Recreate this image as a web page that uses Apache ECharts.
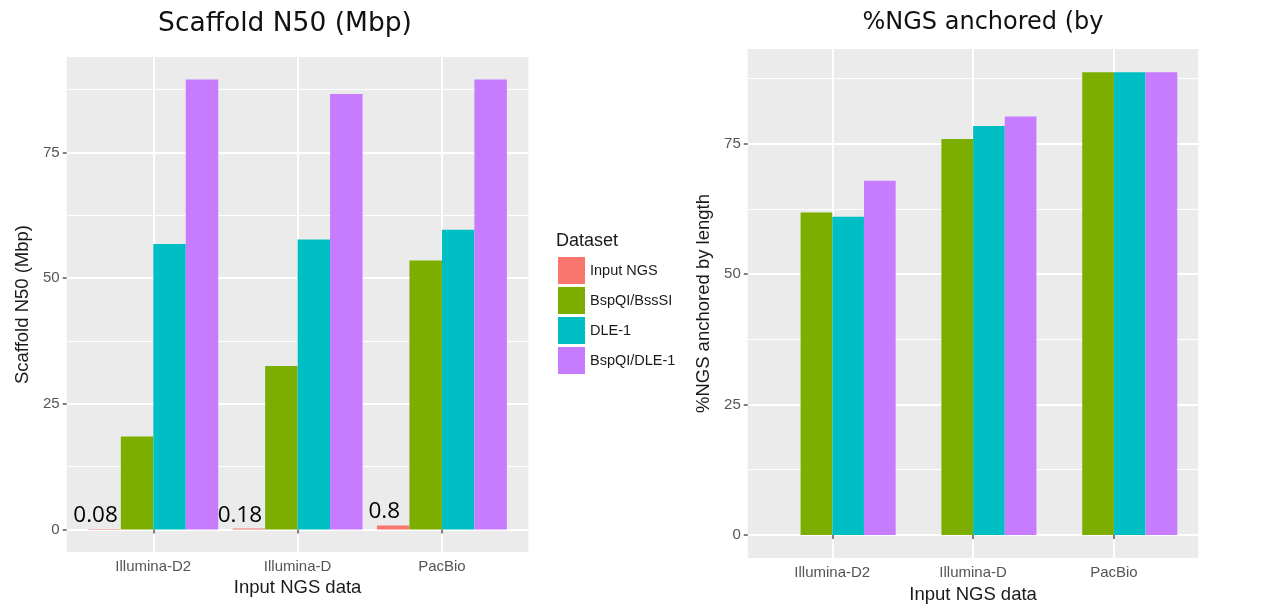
<!DOCTYPE html>
<html>
<head>
<meta charset="utf-8">
<script src="https://cdn.jsdelivr.net/npm/echarts@6/dist/echarts.min.js"></script>
<style>
html,body{margin:0;padding:0;background:#fff;}
#chart{width:1279px;height:609px;}
</style>
</head>
<body>
<div id="chart"></div>
<script>
const categories = ['Illumina-D2', 'Illumina-D', 'PacBio'];
const seriesNames = ['Input NGS', 'BspQI/BssSI', 'DLE-1', 'BspQI/DLE-1'];
const colors = ['#F8766D', '#7CAE00', '#00BFC4', '#C77CFF'];

// Scaffold N50 (Mbp)
const n50InputNGS = [0.08, 0.18, 0.8];
const n50BspQIBssSI = [18.5, 32.5, 53.5];
const n50DLE1 = [56.8, 57.7, 59.6];
const n50BspQIDLE1 = [89.5, 86.6, 89.5];

// %NGS anchored by length
const anchInputNGS = [null, null, null];
const anchBspQIBssSI = [61.8, 75.9, 88.7];
const anchDLE1 = [61.0, 78.4, 88.7];
const anchBspQIDLE1 = [67.9, 80.2, 88.7];

const yTicks = [0, 25, 50, 75];
const yMinorTicks = [12.5, 37.5, 62.5, 87.5];
const xTicks = [1, 2, 3];

const leftData = [n50InputNGS, n50BspQIBssSI, n50DLE1, n50BspQIDLE1];
const rightData = [anchInputNGS, anchBspQIBssSI, anchDLE1, anchBspQIDLE1];

function maxOf(arrs) {
  let m = 0;
  arrs.forEach(a => a.forEach(v => { if (v != null && v > m) m = v; }));
  return m;
}
const leftMax = maxOf(leftData);
const rightMax = maxOf(rightData);

const tickFont = { color: '#555555', fontSize: 15, fontFamily: 'Liberation Sans' };
const nameFont = { color: '#1a1a1a', fontSize: 18.5, fontFamily: 'Liberation Sans' };

function xAxisDef(gridIndex, nameGap) {
  return {
    type: 'value', gridIndex: gridIndex, min: 0.4, max: 3.6,
    name: 'Input NGS data', nameLocation: 'middle', nameGap: nameGap,
    nameTextStyle: nameFont,
    axisLine: { show: false },
    axisTick: { show: true, customValues: xTicks, length: 4, lineStyle: { color: '#555', width: 1.5 } },
    axisLabel: { show: true, customValues: xTicks, margin: 7, ...tickFont,
      formatter: v => categories[Math.round(v) - 1] || '' },
    splitLine: { show: true, lineStyle: { color: '#fff', width: 2 } }
  };
}
function yAxisDef(gridIndex, maxV, name) {
  return {
    type: 'value', gridIndex: gridIndex, min: -maxV * 0.05, max: maxV * 1.05,
    name: name, nameLocation: 'middle', nameGap: 34, nameTextStyle: nameFont,
    axisLine: { show: false },
    axisTick: { show: true, customValues: yTicks, length: 4, lineStyle: { color: '#555', width: 1.5 } },
    axisLabel: { show: true, customValues: yTicks, margin: 7, ...tickFont },
    splitLine: { show: true, lineStyle: { color: '#fff', width: 2 } }
  };
}
function yMinorDef(gridIndex, maxV) {
  return {
    type: 'value', gridIndex: gridIndex, min: -maxV * 0.05, max: maxV * 1.05,
    axisLine: { show: false },
    axisTick: { show: false, customValues: yMinorTicks },
    axisLabel: { show: false, customValues: yMinorTicks },
    splitLine: { show: true, lineStyle: { color: '#fff', width: 1 } }
  };
}

const series = [];
[leftData, rightData].forEach((dataSet, gi) => {
  dataSet.forEach((vals, si) => {
    const s = {
      type: 'bar', name: seriesNames[si], xAxisIndex: gi, yAxisIndex: gi * 2,
      barWidth: '22.5%', barGap: '0%',
      itemStyle: { color: colors[si] },
      data: vals.map((v, i) => [xTicks[i], v])
    };
    if (gi === 0 && si === 0) {
      s.label = { show: true, position: 'top', distance: 2, offset: [-9, 0],
        formatter: p => String(p.value[1]), color: '#000', fontSize: 22.5, fontFamily: 'Open Sans' };
    }
    series.push(s);
  });
});

const option = {
  animation: false,
  backgroundColor: '#fff',
  title: [
    { text: 'Scaffold N50 (Mbp)', left: 285, top: 11, padding: 0, textAlign: 'center',
      textStyle: { fontFamily: 'DejaVu Sans', fontSize: 26.5, fontWeight: 'normal', color: '#111' } },
    { text: '%NGS anchored (by', left: 983, top: 11, padding: 0, textAlign: 'center',
      textStyle: { fontFamily: 'DejaVu Sans', fontSize: 24, fontWeight: 'normal', color: '#111' } },
    { text: 'Dataset', left: 556, top: 232, padding: 0,
      textStyle: { fontFamily: 'Liberation Sans', fontSize: 18, fontWeight: 'normal', color: '#1a1a1a' } }
  ],
  legend: {
    orient: 'vertical', left: 558, top: 257, padding: 0,
    itemWidth: 27, itemHeight: 27, itemGap: 3, icon: 'rect',
    data: seriesNames,
    textStyle: { fontFamily: 'Liberation Sans', fontSize: 14.5, color: '#1a1a1a' }
  },
  grid: [
    { left: 66.7, top: 57, width: 461.8, height: 495, show: true, backgroundColor: '#EBEBEB', borderWidth: 0 },
    { left: 747.8, top: 49, width: 450.6, height: 511.6, show: true, backgroundColor: '#EBEBEB', borderWidth: 0 }
  ],
  xAxis: [xAxisDef(0, 26), xAxisDef(1, 24)],
  yAxis: [
    yAxisDef(0, leftMax, 'Scaffold N50 (Mbp)'), yMinorDef(0, leftMax),
    yAxisDef(1, rightMax, '%NGS anchored by length'), yMinorDef(1, rightMax)
  ],
  series: series
};

const chart = echarts.init(document.getElementById('chart'), null, { renderer: 'canvas' });
chart.setOption(option);
</script>
</body>
</html>
